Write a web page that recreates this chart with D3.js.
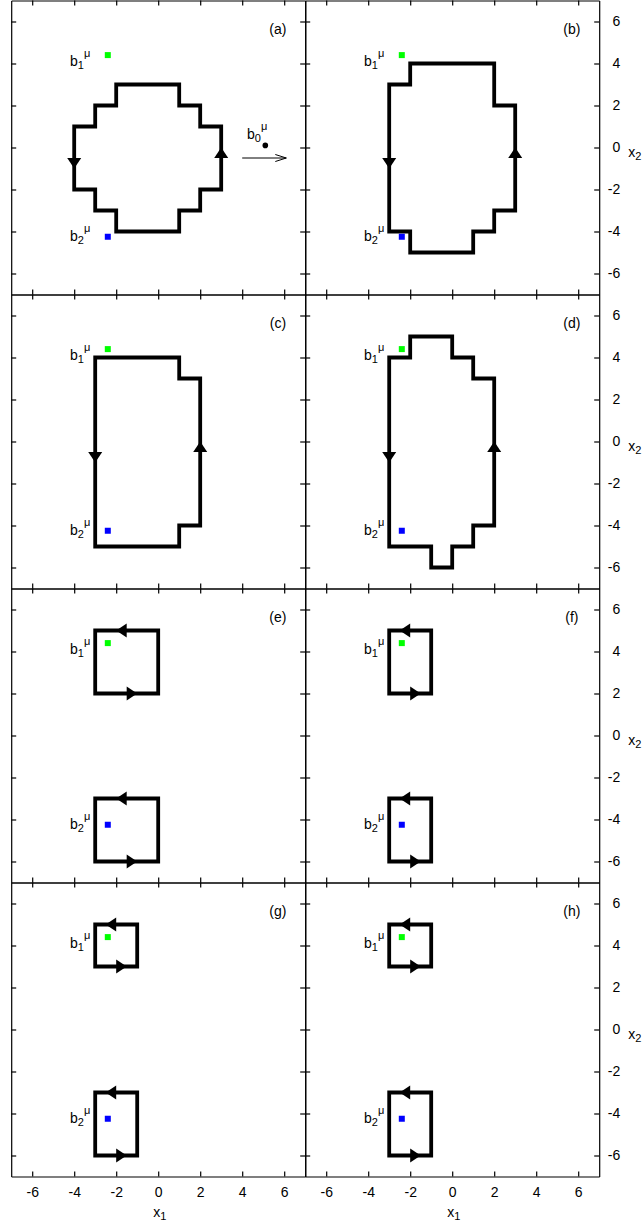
<!DOCTYPE html>
<html>
<head>
<meta charset="utf-8">
<script src="https://cdn.jsdelivr.net/npm/d3@7"></script>
<style>
  body { margin: 0; background: #fff; }
  svg text { font-family: "Liberation Sans", Arial, sans-serif; fill: #000; }
</style>
</head>
<body>
<div id="chart"></div>
<script>
// tick values shared by both axes
const ticks = [-6, -4, -2, 0, 2, 4, 6];

// loop vertices (x1, x2) for each panel
const loopA = [[-2,3],[1,3],[1,2],[2,2],[2,1],[3,1],[3,-2],[2,-2],[2,-3],[1,-3],[1,-4],
               [-2,-4],[-2,-3],[-3,-3],[-3,-2],[-4,-2],[-4,1],[-3,1],[-3,2],[-2,2]];
const loopB = [[-2,4],[2,4],[2,2],[3,2],[3,-3],[2,-3],[2,-4],[1,-4],[1,-5],[-2,-5],
               [-2,-4],[-3,-4],[-3,3],[-2,3]];
const loopC = [[-3,4],[1,4],[1,3],[2,3],[2,-4],[1,-4],[1,-5],[-3,-5]];
const loopD = [[-3,4],[-2,4],[-2,5],[0,5],[0,4],[1,4],[1,3],[2,3],[2,-4],[1,-4],[1,-5],
               [0,-5],[0,-6],[-1,-6],[-1,-5],[-3,-5]];
const loopE1 = [[-3,5],[0,5],[0,2],[-3,2]];
const loopE2 = [[-3,-3],[0,-3],[0,-6],[-3,-6]];
const loopF1 = [[-3,5],[-1,5],[-1,2],[-3,2]];
const loopF2 = [[-3,-3],[-1,-3],[-1,-6],[-3,-6]];
const loopG1 = [[-3,5],[-1,5],[-1,3],[-3,3]];
const loopG2 = [[-3,-3],[-1,-3],[-1,-6],[-3,-6]];

// arrowheads: base point on the loop and direction of travel
const arrowsA = [[-4,-0.5,"down"],[3,-0.5,"up"]];
const arrowsB = [[-3,-0.5,"down"],[3,-0.5,"up"]];
const arrowsC = [[-3,-0.5,"down"],[2,-0.5,"up"]];
const arrowsD = [[-3,-0.5,"down"],[2,-0.5,"up"]];
const arrowsE = [[-1.5,5,"left"],[-1.5,2,"right"],[-1.5,-3,"left"],[-1.5,-6,"right"]];
const arrowsF = [[-2,5,"left"],[-2,2,"right"],[-2,-3,"left"],[-2,-6,"right"]];
const arrowsG = [[-2,5,"left"],[-2,3,"right"],[-2,-3,"left"],[-2,-6,"right"]];

const panelLabels = ["(a)","(b)","(c)","(d)","(e)","(f)","(g)","(h)"];
const panelLoops = [[loopA],[loopB],[loopC],[loopD],[loopE1,loopE2],[loopF1,loopF2],[loopG1,loopG2],[loopG1,loopG2]];
const panelArrows = [arrowsA, arrowsB, arrowsC, arrowsD, arrowsE, arrowsF, arrowsG, arrowsG];

// charges
const b1 = [-2.4, 4.4];
const b2 = [-2.4, -4.25];
const b0 = [5.1, 0.1];
const b0Arrow = [[4, -0.5], [6.1, -0.5]];

const width = 644, height = 1227;
const offX = 11.2, offY = 0.5, pw = 294, ph = 294;

const svg = d3.select("#chart").append("svg")
  .attr("width", width)
  .attr("height", height);

const x = d3.scaleLinear().domain([-7, 7]).range([0, pw]);
const y = d3.scaleLinear().domain([-7, 7]).range([ph, 0]);

const line = d3.line().x(d => x(d[0])).y(d => y(d[1]));
const dirs = { up: [0, -1], down: [0, 1], left: [-1, 0], right: [1, 0] };

function subLabel(g, px, py, main, sub, sup) {
  const t = g.append("text").attr("x", px).attr("y", py).style("font-size", "14px");
  t.append("tspan").text(main);
  t.append("tspan").attr("dy", 3).style("font-size", "11px").text(sub);
  if (sup) t.append("tspan").attr("dy", -12).style("font-size", "11px").text(sup);
}

panelLabels.forEach((label, i) => {
  const col = i % 2, row = Math.floor(i / 2);
  const g = svg.append("g")
    .attr("transform", `translate(${offX + col * pw},${offY + row * ph})`);

  const lastRow = row === 3, rightCol = col === 1;

  const axB = g.append("g").attr("transform", `translate(0,${ph})`)
    .call(d3.axisBottom(x).tickValues(ticks).tickSizeInner(-5).tickSizeOuter(0)
      .tickPadding(11).tickFormat(d => lastRow ? String(d) : ""));
  const axT = g.append("g")
    .call(d3.axisTop(x).tickValues(ticks).tickSizeInner(-5).tickSizeOuter(0).tickFormat(""));
  const axL = g.append("g")
    .call(d3.axisLeft(y).tickValues(ticks).tickSizeInner(-5).tickSizeOuter(0).tickFormat(""));
  const axR = g.append("g").attr("transform", `translate(${pw},0)`)
    .call(d3.axisRight(y).tickValues(ticks).tickSizeInner(-5).tickSizeOuter(0)
      .tickFormat(d => rightCol ? String(d) : ""));
  axR.selectAll("text").attr("text-anchor", "end").attr("x", 21);

  [axB, axT, axL, axR].forEach(a => {
    a.selectAll("path, line").attr("stroke", "#000").attr("stroke-width", 1.2);
    a.selectAll("text").style("font-size", "14px").attr("font-family", null);
  });

  if (rightCol) subLabel(g, pw + 29, y(0) + 9, "x", "2");
  if (lastRow) subLabel(g, x(0) - 5, ph + 40, "x", "1");

  // loops
  g.selectAll("path.loop")
    .data(panelLoops[i])
    .enter().append("path")
    .attr("class", "loop")
    .attr("d", d => line(d) + "Z")
    .attr("fill", "none")
    .attr("stroke", "#000")
    .attr("stroke-width", 3.8)
    .attr("stroke-linejoin", "miter")
    .attr("stroke-linecap", "square");

  // arrowheads
  g.selectAll("path.head")
    .data(panelArrows[i])
    .enter().append("path")
    .attr("class", "head")
    .attr("d", d => {
      const bx = x(d[0]), by = y(d[1]);
      const [ux, uy] = dirs[d[2]];
      const len = 10.5, hw = 7;
      return `M${bx + ux * len},${by + uy * len}L${bx - uy * hw},${by + ux * hw}L${bx + uy * hw},${by - ux * hw}Z`;
    })
    .attr("fill", "#000");

  // charges
  g.append("rect")
    .attr("x", x(b1[0]) - 3).attr("y", y(b1[1]) - 3)
    .attr("width", 6).attr("height", 6).attr("fill", "#00ff00");
  g.append("rect")
    .attr("x", x(b2[0]) - 3).attr("y", y(b2[1]) - 3)
    .attr("width", 6).attr("height", 6).attr("fill", "#0000ff");

  subLabel(g, x(-4.2), y(3.9), "b", "1", "μ");
  subLabel(g, x(-4.2), y(-4.45), "b", "2", "μ");

  if (i === 0) {
    g.append("circle").attr("cx", x(b0[0])).attr("cy", y(b0[1])).attr("r", 2.8).attr("fill", "#000");
    subLabel(g, x(4.23), y(0.4), "b", "0", "μ");
    const ax0 = x(b0Arrow[0][0]), ax1 = x(b0Arrow[1][0]), ay = y(b0Arrow[0][1]);
    g.append("path")
      .attr("d", `M${ax0},${ay}H${ax1}M${ax1 - 11},${ay - 3.5}L${ax1},${ay}L${ax1 - 11},${ay + 3.5}`)
      .attr("fill", "none").attr("stroke", "#000").attr("stroke-width", 1);
  }

  g.append("text")
    .attr("x", x(5.7)).attr("y", y(5.4))
    .attr("text-anchor", "middle")
    .style("font-size", "14px")
    .text(label);
});
</script>
</body>
</html>
